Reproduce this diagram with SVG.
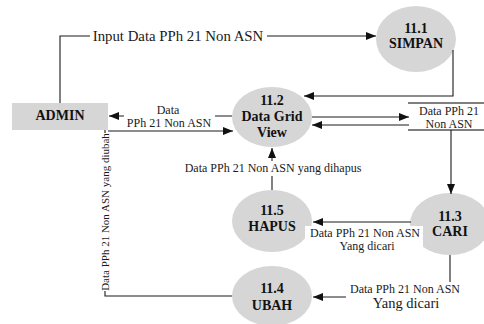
<svg xmlns="http://www.w3.org/2000/svg" width="484" height="324" viewBox="0 0 484 324">
  <style>
    .proc { fill: #d6d6d6; stroke: none; }
    .entity { fill: #d6d6d6; stroke: none; }
    .node-label { font-family: "Liberation Serif", "Times New Roman", serif; font-weight: bold; font-size: 14px; fill: #111; text-anchor: middle; }
    .flow { fill: none; stroke: #1a1a1a; stroke-width: 1.1; }
    .arrow { marker-end: url(#head); }
    .flow-label { font-family: "Liberation Serif", "Times New Roman", serif; font-size: 12px; fill: #1a1a1a; text-anchor: middle; }
    .label-bg { fill: #ffffff; stroke: none; }
    .store-line { stroke: #555; stroke-width: 1.6; }
  </style>
  <defs>
    <marker id="head" markerUnits="userSpaceOnUse" markerWidth="10" markerHeight="8" refX="10" refY="4" orient="auto">
      <path d="M0,0 L10,4 L0,8 Z" fill="#111"/>
    </marker>
  </defs>

  <rect width="484" height="324" fill="#ffffff"/>

  <!-- processes, external entity and data store -->
  <g id="node-admin">
    <rect class="entity" x="12" y="103" width="96" height="27"/>
    <text class="node-label" x="60" y="120">ADMIN</text>
  </g>
  <g id="node-simpan">
    <ellipse class="proc" cx="416" cy="39" rx="40" ry="33"/>
    <text class="node-label" x="416" y="33">11.1</text>
    <text class="node-label" x="416" y="48">SIMPAN</text>
  </g>
  <g id="node-datagrid">
    <ellipse class="proc" cx="272" cy="117" rx="40" ry="30"/>
    <text class="node-label" x="272" y="105">11.2</text>
    <text class="node-label" x="272" y="121">Data Grid</text>
    <text class="node-label" x="272" y="137">View</text>
  </g>
  <g id="node-cari">
    <ellipse class="proc" cx="450" cy="224" rx="40" ry="31"/>
    <text class="node-label" x="450" y="221">11.3</text>
    <text class="node-label" x="450" y="236">CARI</text>
  </g>
  <g id="node-hapus">
    <ellipse class="proc" cx="272" cy="221" rx="40" ry="31"/>
    <text class="node-label" x="272" y="215">11.5</text>
    <text class="node-label" x="272" y="231">HAPUS</text>
  </g>
  <g id="node-ubah">
    <ellipse class="proc" cx="272" cy="296" rx="40" ry="30"/>
    <text class="node-label" x="272" y="293">11.4</text>
    <text class="node-label" x="272" y="310">UBAH</text>
  </g>
  <g id="store-data">
    <line class="store-line" x1="408" y1="103" x2="484" y2="103"/>
    <line class="store-line" x1="408" y1="130" x2="484" y2="130"/>
    <text class="flow-label" x="449" y="115">Data PPh 21</text>
    <text class="flow-label" x="449" y="128">Non ASN</text>
  </g>

  <!-- data flows -->
  <g id="connectors">
    <!-- ADMIN to SIMPAN -->
    <polyline class="flow arrow" points="60,103 60,36 376,36"/>
    <rect class="label-bg" x="90" y="29" width="177" height="15"/>
    <text class="flow-label" style="font-size:14.8px" x="178" y="41">Input Data PPh 21 Non ASN</text>

    <!-- SIMPAN to Data Grid View -->
    <polyline class="flow arrow" points="453,50 453,96 304,96"/>

    <!-- Data Grid View to ADMIN -->
    <line class="flow arrow" x1="232" y1="116" x2="109" y2="116"/>
    <rect class="label-bg" x="124" y="104" width="91" height="25"/>
    <text class="flow-label" x="168" y="114">Data</text>
    <text class="flow-label" x="169" y="127">PPh 21 Non ASN</text>

    <!-- ADMIN to Data Grid View -->
    <line class="flow arrow" x1="108" y1="131" x2="233" y2="131"/>

    <!-- Data Grid View and the data store -->
    <line class="flow arrow" x1="312" y1="117" x2="409" y2="117"/>
    <line class="flow arrow" x1="409" y1="125" x2="312" y2="125"/>

    <!-- data store to CARI -->
    <line class="flow arrow" x1="451" y1="130" x2="451" y2="194"/>

    <!-- CARI to HAPUS -->
    <line class="flow arrow" x1="411" y1="222" x2="313" y2="222"/>
    <rect class="label-bg" x="305" y="226" width="118" height="26"/>
    <text class="flow-label" x="365" y="237">Data PPh 21 Non ASN</text>
    <text class="flow-label" x="367" y="250">Yang dicari</text>

    <!-- HAPUS to Data Grid View -->
    <line class="flow arrow" x1="272" y1="190" x2="272" y2="148"/>
    <rect class="label-bg" x="178" y="161" width="189" height="15"/>
    <text class="flow-label" x="273" y="172">Data PPh 21 Non ASN yang dihapus</text>

    <!-- CARI to UBAH -->
    <polyline class="flow arrow" points="450,255 450,297 313,297"/>
    <rect class="label-bg" x="346" y="282" width="118" height="30"/>
    <text class="flow-label" x="405" y="293">Data PPh 21 Non ASN</text>
    <text class="flow-label" style="font-size:14.5px" x="406" y="308">Yang dicari</text>

    <!-- UBAH to ADMIN -->
    <polyline class="flow" points="232,296 105,296 105,130"/>
    <rect class="label-bg" x="99" y="133" width="14" height="158"/>
    <text class="flow-label" style="font-size:11px" transform="translate(108.5,212) rotate(-90)">Data PPh 21 Non ASN yang diubah</text>
  </g>
</svg>
